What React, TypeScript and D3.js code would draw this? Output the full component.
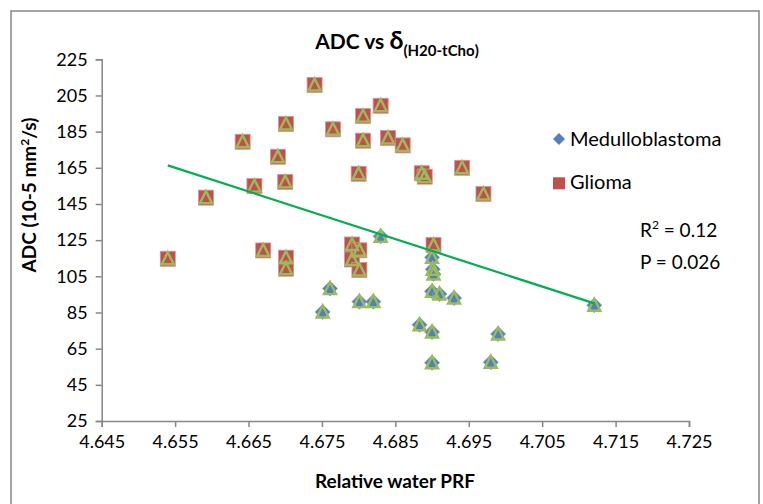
import React, { useEffect, useRef } from 'react'
import * as d3 from 'd3'

const width = 763
const height = 504

// Glioma points
const gliomaX = [4.654, 4.6592, 4.6642, 4.6658, 4.667, 4.669, 4.6701, 4.67, 4.6701, 4.6701,
  4.674, 4.6765, 4.6791, 4.6791, 4.6801, 4.6801, 4.68, 4.6806, 4.6806, 4.683,
  4.684, 4.686, 4.6886, 4.689, 4.6902, 4.6941, 4.697]
const gliomaY = [114.7, 148.5, 179.4, 154.9, 119.3, 171.1, 189.2, 157.2, 115.3, 109.2,
  210.8, 186.3, 122.6, 114.3, 119.4, 108.5, 161.7, 193.6, 180, 199.3,
  181.5, 177.4, 162, 160.1, 122.3, 165, 150.5]

// Medulloblastoma points
const medX = [4.6751, 4.6761, 4.6801, 4.682, 4.683, 4.6883, 4.69, 4.6901, 4.6902,
  4.69, 4.691, 4.693, 4.69, 4.69, 4.698, 4.699, 4.7121]
const medY = [85.3, 98.2, 91, 91, 127.1, 78.2, 115.5, 108.9, 106.3,
  96.7, 95.2, 93, 74.2, 57.2, 57.5, 73.1, 89]

const xTicks = [4.645, 4.655, 4.665, 4.675, 4.685, 4.695, 4.705, 4.715, 4.725]
const yTicks = [25, 45, 65, 85, 105, 125, 145, 165, 185, 205, 225]

const blue = '#4F81BD'
const red = '#C0504D'
const green = '#9BBB59'
const axisCol = '#868686'
const font = 'Lato, "Open Sans", sans-serif'

const App = () => {
  const ref = useRef(null)

  useEffect(() => {
    const svg = d3.select(ref.current)
    svg.selectAll('*').remove()

    const x = d3.scaleLinear().domain([4.645, 4.725]).range([101.7, 689])
    const y = d3.scaleLinear().domain([25, 225]).range([421, 59.3])

    // outer chart border
    svg.append('rect')
      .attr('x', 11).attr('y', 11).attr('width', 748).attr('height', 510)
      .attr('fill', 'white').attr('stroke', axisCol).attr('stroke-width', 1.5)

    // title
    const title = svg.append('text')
      .attr('x', 397).attr('y', 49)
      .attr('text-anchor', 'middle')
      .style('font-family', font).style('font-weight', 'bold').style('font-size', '21px')
    title.append('tspan').text('ADC vs ')
    title.append('tspan').text('δ').style('font-size', '25px')
    title.append('tspan').text('(H20-tCho)').attr('dy', 7).style('font-size', '15px')

    // axes
    const xAxis = svg.append('g').attr('transform', `translate(0,${y(25)})`)
      .call(d3.axisBottom(x).tickValues(xTicks).tickFormat(d3.format('.3f')).tickSizeOuter(0).tickSize(6))
    const yAxis = svg.append('g').attr('transform', `translate(${x(4.645)},0)`)
      .call(d3.axisLeft(y).tickValues(yTicks).tickSizeOuter(0).tickSize(6))

    ;[xAxis, yAxis].forEach(a => {
      a.select('.domain').attr('stroke', axisCol).attr('stroke-width', 1.5)
      a.selectAll('.tick line').attr('stroke', axisCol).attr('stroke-width', 1.5)
      a.selectAll('.tick text').attr('fill', '#000')
        .style('font-family', font).style('font-size', '18px')
    })
    xAxis.selectAll('.tick text').attr('y', 14)
    yAxis.selectAll('.tick text').attr('x', -14)

    // axis titles
    svg.append('text')
      .attr('x', 395).attr('y', 488)
      .attr('text-anchor', 'middle')
      .style('font-family', font).style('font-weight', 'bold').style('font-size', '19px')
      .text('Relative water PRF')

    const yl = svg.append('text')
      .attr('transform', 'translate(36,195) rotate(-90)')
      .attr('text-anchor', 'middle')
      .style('font-family', font).style('font-weight', 'bold').style('font-size', '19px')
    yl.append('tspan').text('ADC (10-5 mm')
    yl.append('tspan').text('2').attr('dy', -7).style('font-size', '12px')
    yl.append('tspan').text('/s)').attr('dy', 7)

    const diamond = (s: number) => `M0,${-s}L${s},0L0,${s}L${-s},0Z`

    const med = medX.map((v, i) => ({ x: v, y: medY[i] }))
    const gli = gliomaX.map((v, i) => ({ x: v, y: gliomaY[i] }))
    const all = med.concat(gli)

    svg.append('g').selectAll('path').data(med).enter().append('path')
      .attr('d', diamond(7.5))
      .attr('transform', d => `translate(${x(d.x)},${y(d.y)})`)
      .attr('fill', blue).attr('stroke', '#7FA3D0').attr('stroke-width', 0.8)

    svg.append('g').selectAll('rect').data(gli).enter().append('rect')
      .attr('x', d => x(d.x) - 7.5).attr('y', d => y(d.y) - 7.5)
      .attr('width', 15).attr('height', 15)
      .attr('fill', red).attr('stroke', '#D99694').attr('stroke-width', 0.8)

    svg.append('g').selectAll('path').data(all).enter().append('path')
      .attr('d', 'M0,-6.5L6,5.5L-6,5.5Z')
      .attr('transform', d => `translate(${x(d.x)},${y(d.y)})`)
      .attr('fill', 'none').attr('stroke', green).attr('stroke-width', 2.4)
      .attr('stroke-linejoin', 'miter')

    // linear trendline of all points
    const mx = d3.mean(all, d => d.x)
    const my = d3.mean(all, d => d.y)
    const slope = d3.sum(all, d => (d.x - mx) * (d.y - my)) / d3.sum(all, d => (d.x - mx) ** 2)
    const icpt = my - slope * mx
    const [x0, x1] = d3.extent(all, d => d.x)
    svg.append('line')
      .attr('x1', x(x0)).attr('y1', y(icpt + slope * x0))
      .attr('x2', x(x1)).attr('y2', y(icpt + slope * x1))
      .attr('stroke', '#00B050').attr('stroke-width', 2.2)

    // legend
    svg.append('path').attr('d', diamond(6))
      .attr('transform', 'translate(559,139)').attr('fill', blue)
    svg.append('text').attr('x', 570).attr('y', 145.5)
      .style('font-family', font).style('font-size', '20px').text('Medulloblastoma')
    svg.append('rect').attr('x', 553).attr('y', 177.3).attr('width', 12).attr('height', 12)
      .attr('fill', red)
    svg.append('text').attr('x', 570).attr('y', 189)
      .style('font-family', font).style('font-size', '20px').text('Glioma')

    // stats
    const r2 = svg.append('text').attr('x', 640).attr('y', 237)
      .style('font-family', font).style('font-size', '19px')
    r2.append('tspan').text('R')
    r2.append('tspan').text('2').attr('dy', -8).style('font-size', '12px')
    r2.append('tspan').text(' = 0.12').attr('dy', 8)
    svg.append('text').attr('x', 640).attr('y', 268.5)
      .style('font-family', font).style('font-size', '19px').text('P = 0.026')
  }, [])

  return (
    <svg ref={ref} width={width} height={height}
      style={{ position: 'absolute', left: 0, top: 0, background: 'white' }} />
  )
}

export default App
